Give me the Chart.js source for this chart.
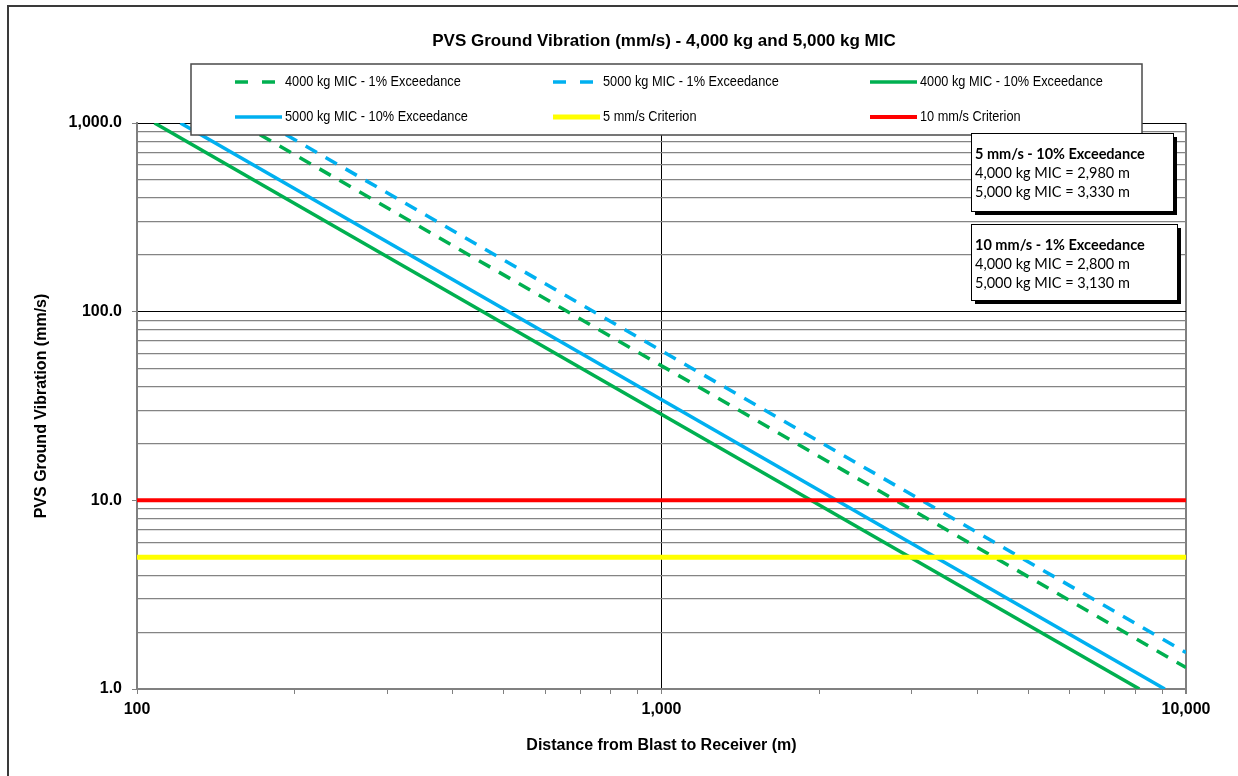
<!DOCTYPE html>
<html>
<head>
<meta charset="utf-8">
<title>PVS Ground Vibration</title>
<script src="https://cdn.jsdelivr.net/npm/chart.js@4.4.1/dist/chart.umd.min.js"></script>
<style>
  html, body { margin: 0; padding: 0; background: #fff; }
  #chart { display: block; }
</style>
</head>
<body>
<canvas id="chart" width="1238" height="776"></canvas>
<script>
// End points of each line (straight lines on log-log axes)
const greenDashDist = [157, 10000];
const greenDashPvs = [1000, 1.30];
const blueDashDist = [176, 10000];
const blueDashPvs = [1000, 1.56];
const greenSolidDist = [108, 8150];
const greenSolidPvs = [1000, 1];
const blueSolidDist = [121, 9110];
const blueSolidPvs = [1000, 1];
const criterionDist = [100, 10000];
const criterion5 = [5, 5];
const criterion10 = [10, 10];

const seriesLabels = [
    '4000 kg MIC - 1% Exceedance',
    '5000 kg MIC - 1% Exceedance',
    '4000 kg MIC - 10% Exceedance',
    '5000 kg MIC - 10% Exceedance',
    '5 mm/s Criterion',
    '10 mm/s Criterion'
];

// Axis ticks (every value gets a tick, only the decades get a label)
const xGridValues = [100, 200, 300, 400, 500, 600, 700, 800, 900,
    1000, 2000, 3000, 4000, 5000, 6000, 7000, 8000, 9000, 10000];
const xLabelValues = [100, 1000, 10000];
const xLabels = ['100', '1,000', '10,000'];
const yGridValues = [1, 2, 3, 4, 5, 6, 7, 8, 9, 10, 20, 30, 40, 50, 60, 70, 80, 90,
    100, 200, 300, 400, 500, 600, 700, 800, 900, 1000];
const yLabelValues = [1, 10, 100, 1000];
const yLabels = ['1.0', '10.0', '100.0', '1,000.0'];

// Text boxes on the right
const noteTitles = ['5 mm/s - 10% Exceedance', '10 mm/s - 1% Exceedance'];
const noteLines = [
    ['4,000 kg MIC = 2,980 m', '5,000 kg MIC = 3,330 m'],
    ['4,000 kg MIC = 2,800 m', '5,000 kg MIC = 3,130 m']
];

const GREEN = '#00B050';
const BLUE = '#00B0F0';
const FONT = "'Liberation Sans', Arial, sans-serif";

Chart.defaults.font.family = FONT;
Chart.defaults.color = '#000';

const toPoints = (xs, ys) => xs.map((x, i) => ({ x: x, y: ys[i] }));

function lineSet(i, dist, pvs, color, width, dash) {
    return {
        label: seriesLabels[i],
        data: toPoints(dist, pvs),
        borderColor: color,
        backgroundColor: color,
        borderWidth: width,
        borderDash: dash,
        pointRadius: 0,
        fill: false,
        tension: 0,
        order: seriesLabels.length - i // later series on top, like the original
    };
}

const datasets = [
    lineSet(0, greenDashDist, greenDashPvs, GREEN, 3.5, [13, 10]),
    lineSet(1, blueDashDist, blueDashPvs, BLUE, 3.5, [13, 10]),
    lineSet(2, greenSolidDist, greenSolidPvs, GREEN, 3.5, []),
    lineSet(3, blueSolidDist, blueSolidPvs, BLUE, 3.5, []),
    lineSet(4, criterionDist, criterion5, '#FFFF00', 5, []),
    lineSet(5, criterionDist, criterion10, '#FF0000', 4, [])
];

function noPadding(scale) {
    scale.paddingLeft = 0;
    scale.paddingRight = 0;
    scale.paddingTop = 0;
    scale.paddingBottom = 0;
}

// Title, legend box, note boxes and outer frame
const decorations = {
    id: 'decorations',
    afterDraw(chart) {
        const ctx = chart.ctx;
        ctx.save();

        // outer frame
        ctx.strokeStyle = '#3a3a3a';
        ctx.lineWidth = 2;
        ctx.strokeRect(8, 6, 1300, 850);

        // title
        ctx.fillStyle = '#000';
        ctx.font = 'bold 17px ' + FONT;
        ctx.textAlign = 'center';
        ctx.textBaseline = 'middle';
        ctx.fillText('PVS Ground Vibration (mm/s) - 4,000 kg and 5,000 kg MIC', 664, 41);

        // legend
        ctx.fillStyle = '#fff';
        ctx.fillRect(191, 64, 951, 71);
        ctx.strokeStyle = '#4a4a4a';
        ctx.lineWidth = 1.5;
        ctx.strokeRect(191, 64, 951, 71);
        const colX = [235, 553, 870];
        const rowY = [82, 117];
        chart.data.datasets.forEach((ds, i) => {
            const x = colX[i % 3];
            const y = rowY[Math.floor(i / 3)];
            const dashed = ds.borderDash && ds.borderDash.length;
            ctx.strokeStyle = ds.borderColor;
            ctx.lineWidth = ds.borderWidth;
            ctx.setLineDash(dashed ? [13, 14] : []);
            ctx.beginPath();
            ctx.moveTo(x, y);
            ctx.lineTo(x + (dashed ? 40 : 47), y);
            ctx.stroke();
            ctx.setLineDash([]);
            ctx.save();
            ctx.translate(x + 50, y);
            ctx.scale(0.85, 1);
            ctx.fillStyle = '#000';
            ctx.font = '15px ' + FONT;
            ctx.textAlign = 'left';
            ctx.textBaseline = 'middle';
            ctx.fillText(ds.label, 0, 0);
            ctx.restore();
        });

        // note boxes
        const boxes = [[971, 133, 202, 78], [971, 224, 206, 76]];
        boxes.forEach((b, i) => {
            ctx.fillStyle = '#000';
            ctx.fillRect(b[0] + 4, b[1] + 4, b[2], b[3]);
            ctx.fillStyle = '#fff';
            ctx.fillRect(b[0], b[1], b[2], b[3]);
            ctx.strokeStyle = '#000';
            ctx.lineWidth = 1;
            ctx.strokeRect(b[0] + 0.5, b[1] + 0.5, b[2], b[3]);
            ctx.fillStyle = '#000';
            ctx.textAlign = 'left';
            ctx.textBaseline = 'middle';
            ctx.font = 'bold 14.5px Lato, sans-serif';
            ctx.fillText(noteTitles[i], b[0] + 4, b[1] + 21);
            ctx.font = '14.5px Lato, sans-serif';
            noteLines[i].forEach((t, j) => ctx.fillText(t, b[0] + 4, b[1] + 40 + j * 19));
        });

        ctx.restore();
    }
};

new Chart(document.getElementById('chart'), {
    type: 'line',
    data: { datasets: datasets },
    options: {
        responsive: false,
        animation: false,
        layout: { padding: { top: 123, left: 0, right: 52, bottom: 0 } },
        plugins: {
            legend: { display: false },
            title: { display: false },
            tooltip: { enabled: false }
        },
        scales: {
            x: {
                type: 'logarithmic',
                min: 100,
                max: 10000,
                afterBuildTicks: s => {
                    s.ticks = xGridValues.map(v => ({ value: v, major: xLabelValues.includes(v) }));
                },
                afterFit: s => { s.height = 87; noPadding(s); },
                grid: {
                    color: c => {
                        const v = c.tick ? c.tick.value : 0;
                        if (v === 1000) return '#000';
                        if (v === 100 || v === 10000) return '#808080';
                        return 'rgba(0,0,0,0)';
                    },
                    lineWidth: c => (c.tick && c.tick.value === 10000 ? 2 : 1),
                    tickColor: '#808080',
                    tickLength: 5
                },
                border: { display: true, color: '#808080', width: 2 },
                ticks: {
                    autoSkip: false,
                    maxRotation: 0,
                    padding: 6,
                    color: '#000',
                    font: { size: 16, weight: 'bold' },
                    callback: v => {
                        const i = xLabelValues.indexOf(v);
                        return i >= 0 ? xLabels[i] : '';
                    }
                },
                title: {
                    display: true,
                    text: 'Distance from Blast to Receiver (m)',
                    color: '#000',
                    font: { size: 16, weight: 'bold' },
                    padding: { top: 0, bottom: 21 }
                }
            },
            y: {
                type: 'logarithmic',
                min: 1,
                max: 1000,
                afterBuildTicks: s => {
                    s.ticks = yGridValues.map(v => ({ value: v, major: yLabelValues.includes(v) }));
                },
                afterFit: s => { s.width = 137; noPadding(s); },
                grid: {
                    color: c => (c.tick && c.tick.major ? '#000' : '#848484'),
                    lineWidth: c => (c.tick && c.tick.major ? 1 : 1.3),
                    tickColor: c => (c.tick && c.tick.major ? '#808080' : 'rgba(0,0,0,0)'),
                    tickLength: 5
                },
                border: { display: true, color: '#808080', width: 2 },
                ticks: {
                    autoSkip: false,
                    padding: 10,
                    color: '#000',
                    font: { size: 16, weight: 'bold' },
                    callback: v => {
                        const i = yLabelValues.indexOf(v);
                        return i >= 0 ? yLabels[i] : '';
                    }
                },
                title: {
                    display: true,
                    text: 'PVS Ground Vibration (mm/s)',
                    color: '#000',
                    font: { size: 16, weight: 'bold' },
                    padding: { top: 32, bottom: 0 }
                }
            }
        }
    },
    plugins: [decorations]
});
</script>
</body>
</html>
